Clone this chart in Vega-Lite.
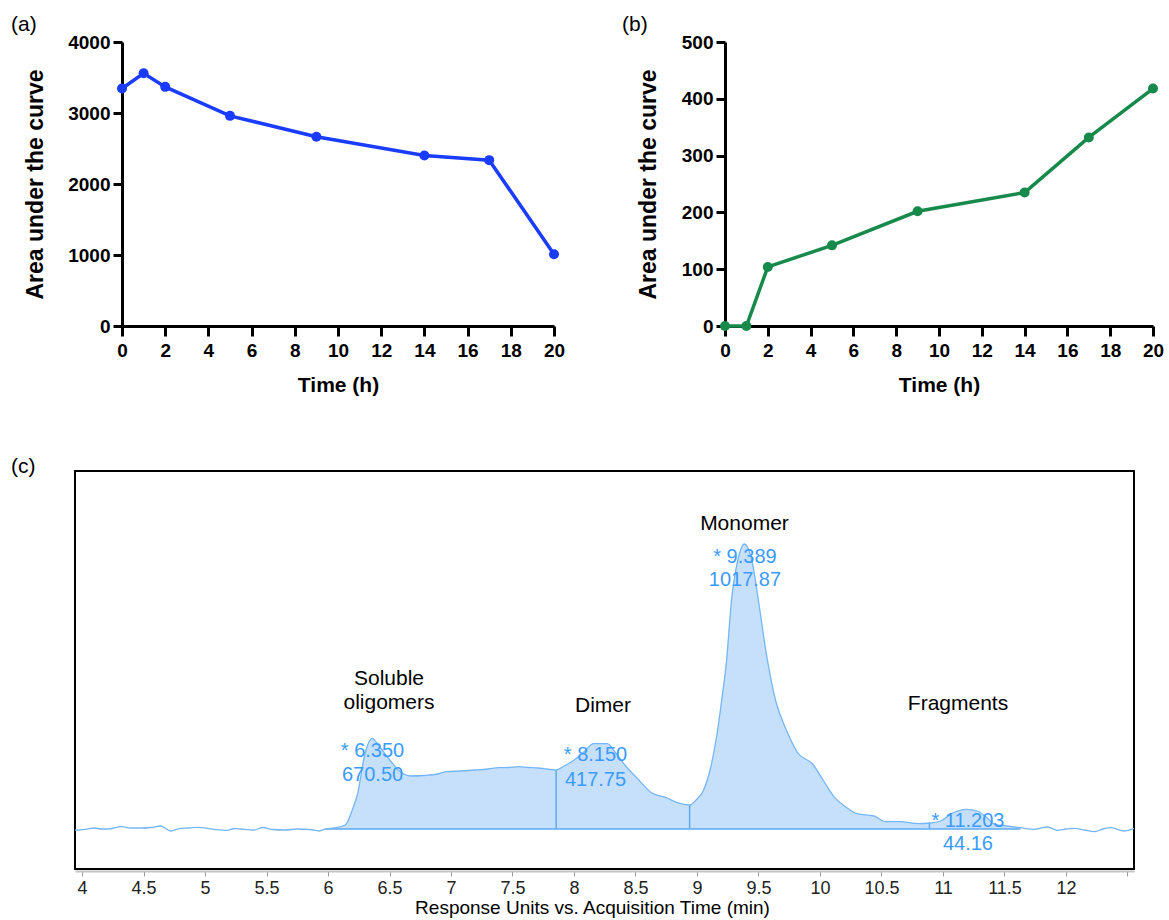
{
  "$schema": "https://vega.github.io/schema/vega-lite/v6.json",
  "padding": {"left": 10, "top": 14, "right": 5, "bottom": 5},
  "background": "white",
  "config": {"font": "Liberation Sans", "view": {"stroke": null}},
  "datasets": {
    "auc_a": [
      {"t": 0, "auc": 3345}, {"t": 1, "auc": 3560}, {"t": 2, "auc": 3368}, {"t": 5, "auc": 2960},
      {"t": 9, "auc": 2665}, {"t": 14, "auc": 2402}, {"t": 17, "auc": 2336}, {"t": 20, "auc": 1010}
    ],
    "auc_b": [
      {"t": 0, "auc": 0}, {"t": 1, "auc": 0}, {"t": 2, "auc": 104}, {"t": 5, "auc": 142},
      {"t": 9, "auc": 202}, {"t": 14, "auc": 235}, {"t": 17, "auc": 332}, {"t": 20, "auc": 418}
    ],
    "trace": [
      {"time": 3.943, "signal": -1}, {"time": 3.96, "signal": -1}, {"time": 4.03, "signal": -0.3},
      {"time": 4.1, "signal": 1}, {"time": 4.16, "signal": 0}, {"time": 4.21, "signal": 0},
      {"time": 4.32, "signal": 2.3}, {"time": 4.4, "signal": 1}, {"time": 4.48, "signal": 1},
      {"time": 4.56, "signal": 1.5}, {"time": 4.64, "signal": 3}, {"time": 4.72, "signal": -2},
      {"time": 4.8, "signal": 0.7}, {"time": 4.87, "signal": 1}, {"time": 4.94, "signal": 1.7},
      {"time": 5.07, "signal": -0.3}, {"time": 5.18, "signal": -1.3}, {"time": 5.24, "signal": 0.5},
      {"time": 5.29, "signal": 0}, {"time": 5.4, "signal": -1}, {"time": 5.47, "signal": 1.5},
      {"time": 5.55, "signal": -0.5}, {"time": 5.65, "signal": -1}, {"time": 5.75, "signal": 0},
      {"time": 5.85, "signal": -0.5}, {"time": 5.93, "signal": -2}, {"time": 5.98, "signal": 0},
      {"time": 6.05, "signal": 1}, {"time": 6.14, "signal": 4}, {"time": 6.2, "signal": 20},
      {"time": 6.24, "signal": 35}, {"time": 6.3, "signal": 75}, {"time": 6.36, "signal": 90.7},
      {"time": 6.42, "signal": 82}, {"time": 6.49, "signal": 71}, {"time": 6.58, "signal": 58},
      {"time": 6.675, "signal": 53}, {"time": 6.78, "signal": 53.5}, {"time": 6.89, "signal": 55},
      {"time": 6.96, "signal": 57.3}, {"time": 7.08, "signal": 58}, {"time": 7.2, "signal": 59},
      {"time": 7.3, "signal": 60}, {"time": 7.39, "signal": 61.3}, {"time": 7.47, "signal": 61.5},
      {"time": 7.55, "signal": 62.3}, {"time": 7.63, "signal": 61.5}, {"time": 7.71, "signal": 61},
      {"time": 7.78, "signal": 60}, {"time": 7.855, "signal": 59}, {"time": 7.92, "signal": 63},
      {"time": 7.99, "signal": 68}, {"time": 8.08, "signal": 77}, {"time": 8.16, "signal": 85.3},
      {"time": 8.27, "signal": 85.3}, {"time": 8.34, "signal": 76}, {"time": 8.42, "signal": 63},
      {"time": 8.52, "signal": 50}, {"time": 8.63, "signal": 36.3}, {"time": 8.75, "signal": 31.3},
      {"time": 8.84, "signal": 26.3}, {"time": 8.94, "signal": 24}, {"time": 9.0, "signal": 30},
      {"time": 9.05, "signal": 38}, {"time": 9.11, "signal": 61}, {"time": 9.17, "signal": 101},
      {"time": 9.2, "signal": 128}, {"time": 9.24, "signal": 168}, {"time": 9.28, "signal": 228},
      {"time": 9.33, "signal": 268}, {"time": 9.36, "signal": 281}, {"time": 9.385, "signal": 285},
      {"time": 9.41, "signal": 282}, {"time": 9.44, "signal": 272}, {"time": 9.5, "signal": 228},
      {"time": 9.56, "signal": 178}, {"time": 9.64, "signal": 128}, {"time": 9.73, "signal": 98},
      {"time": 9.82, "signal": 76}, {"time": 9.94, "signal": 65}, {"time": 10.03, "signal": 48},
      {"time": 10.12, "signal": 31.3}, {"time": 10.21, "signal": 22}, {"time": 10.3, "signal": 15.3},
      {"time": 10.44, "signal": 13}, {"time": 10.53, "signal": 7.3}, {"time": 10.65, "signal": 7.3},
      {"time": 10.8, "signal": 5.3}, {"time": 10.89, "signal": 6}, {"time": 10.98, "signal": 8},
      {"time": 11.08, "signal": 16}, {"time": 11.19, "signal": 19.7}, {"time": 11.28, "signal": 18},
      {"time": 11.36, "signal": 11}, {"time": 11.42, "signal": 4.7}, {"time": 11.52, "signal": 3},
      {"time": 11.63, "signal": 1.3}, {"time": 11.74, "signal": -0.3}, {"time": 11.85, "signal": 2},
      {"time": 11.93, "signal": -1.3}, {"time": 12.0, "signal": 0}, {"time": 12.07, "signal": 0.7},
      {"time": 12.15, "signal": -1}, {"time": 12.23, "signal": -2.7}, {"time": 12.3, "signal": 0},
      {"time": 12.37, "signal": 1.3}, {"time": 12.47, "signal": -2}, {"time": 12.553, "signal": 0.7}
    ],
    "integration": [{"start": 5.98, "end": 11.63, "level": 0}],
    "splits": [{"time": 7.855, "top": 59}, {"time": 8.94, "top": 24}, {"time": 10.89, "top": 6}],
    "peak_names": [
      {"time": 6.496, "signal": 150, "text": "Soluble"},
      {"time": 6.496, "signal": 126, "text": "oligomers"},
      {"time": 8.236, "signal": 123.5, "text": "Dimer"},
      {"time": 9.386, "signal": 305.5, "text": "Monomer"},
      {"time": 11.122, "signal": 125, "text": "Fragments"}
    ],
    "peak_values": [
      {"time": 6.362, "signal": 78, "text": "* 6.350"},
      {"time": 6.362, "signal": 54.5, "text": "670.50"},
      {"time": 8.175, "signal": 74, "text": "* 8.150"},
      {"time": 8.175, "signal": 49.5, "text": "417.75"},
      {"time": 9.39, "signal": 272.5, "text": "* 9.389"},
      {"time": 9.39, "signal": 249.5, "text": "1017.87"},
      {"time": 11.203, "signal": 8, "text": "* 11.203"},
      {"time": 11.203, "signal": -14.5, "text": "44.16"}
    ]
  },
  "spacing": 60,
  "vconcat": [
    {
      "spacing": 57,
      "hconcat": [
        {
          "width": 479,
          "height": 284,
          "title": {"text": "(a)", "anchor": "start", "frame": "group", "dx": -64, "fontSize": 21, "fontWeight": "normal", "baseline": "bottom", "offset": -23, "color": "black"},
          "data": {"name": "auc_a"},
          "mark": {"type": "line", "color": "#1a3cff", "strokeWidth": 3.5, "point": {"filled": true, "size": 100, "color": "#1a3cff"}},
          "encoding": {
            "x": {"field": "t", "type": "quantitative", "scale": {"domain": [0, 20], "nice": false, "range": [47, 479]},
              "axis": {"title": "Time (h)", "values": [0, 2, 4, 6, 8, 10, 12, 14, 16, 18, 20], "grid": false,
                "domainColor": "black", "domainWidth": 3, "tickColor": "black", "tickWidth": 3, "tickSize": 10,
                "labelFontSize": 19, "labelFontWeight": "bold", "labelColor": "black", "labelPadding": 5,
                "labelFlush": false, "labelOverlap": false,
                "titleFontSize": 21, "titleFontWeight": "bold", "titleColor": "black", "titlePadding": 14, "titleX": 263}},
            "y": {"field": "auc", "type": "quantitative", "scale": {"domain": [0, 4000], "nice": false},
              "axis": {"title": "Area under the curve", "values": [0, 1000, 2000, 3000, 4000], "format": "d", "grid": false, "offset": -47,
                "domainColor": "black", "domainWidth": 3, "tickColor": "black", "tickWidth": 3, "tickSize": 9,
                "labelFontSize": 19, "labelFontWeight": "bold", "labelColor": "black", "labelPadding": 3,
                "labelFlush": false, "labelOverlap": false,
                "titleFontSize": 23, "titleFontWeight": "bold", "titleColor": "black", "titlePadding": 20}}
          }
        },
        {
          "width": 428,
          "height": 284,
          "title": {"text": "(b)", "anchor": "start", "frame": "group", "dx": -103, "fontSize": 21, "fontWeight": "normal", "baseline": "bottom", "offset": -23, "color": "black"},
          "data": {"name": "auc_b"},
          "mark": {"type": "line", "color": "#178a4b", "strokeWidth": 3.5, "point": {"filled": true, "size": 100, "color": "#178a4b"}},
          "encoding": {
            "x": {"field": "t", "type": "quantitative", "scale": {"domain": [0, 20], "nice": false},
              "axis": {"title": "Time (h)", "values": [0, 2, 4, 6, 8, 10, 12, 14, 16, 18, 20], "grid": false,
                "domainColor": "black", "domainWidth": 3, "tickColor": "black", "tickWidth": 3, "tickSize": 10,
                "labelFontSize": 19, "labelFontWeight": "bold", "labelColor": "black", "labelPadding": 5,
                "labelFlush": false, "labelOverlap": false,
                "titleFontSize": 21, "titleFontWeight": "bold", "titleColor": "black", "titlePadding": 14}},
            "y": {"field": "auc", "type": "quantitative", "scale": {"domain": [0, 500], "nice": false},
              "axis": {"title": "Area under the curve", "values": [0, 100, 200, 300, 400, 500], "format": "d", "grid": false,
                "domainColor": "black", "domainWidth": 3, "tickColor": "black", "tickWidth": 3, "tickSize": 9,
                "labelFontSize": 19, "labelFontWeight": "bold", "labelColor": "black", "labelPadding": 3,
                "labelFlush": false, "labelOverlap": false,
                "titleFontSize": 23, "titleFontWeight": "bold", "titleColor": "black", "titlePadding": 21}}
          }
        }
      ]
    },
    {
      "width": 1059,
      "height": 398,
      "view": {"stroke": "black", "strokeWidth": 2},
      "title": {"text": "(c)", "anchor": "start", "frame": "group", "dx": -64, "fontSize": 21, "fontWeight": "normal", "baseline": "bottom", "offset": -27, "color": "black"},
      "layer": [
        {
          "data": {"name": "trace"},
          "transform": [{"filter": "datum.time >= 5.98 && datum.time <= 11.63"}],
          "mark": {"type": "area", "color": "#c6e0fb", "interpolate": "monotone", "opacity": 1},
          "encoding": {
            "x": {"field": "time", "type": "quantitative", "scale": {"domain": [3.943, 12.553], "nice": false, "zero": false},
              "axis": {"title": "Response Units vs. Acquisition Time (min)", "values": [4, 4.5, 5, 5.5, 6, 6.5, 7, 7.5, 8, 8.5, 9, 9.5, 10, 10.5, 11, 11.5, 12, 12.5],
                "format": "~g", "labelExpr": "datum.value > 12.4 ? '' : datum.label", "grid": false,
                "offset": 2, "domainColor": "#c4c4c4", "domainWidth": 2, "tickColor": "#999999", "tickWidth": 1, "tickSize": 5,
                "labelFontSize": 18, "labelColor": "#222222", "labelPadding": 3, "labelFlush": false, "labelOverlap": false,
                "titleFontSize": 19, "titleFontWeight": "normal", "titleColor": "black", "titlePadding": 1, "titleX": 517}},
            "y": {"field": "signal", "type": "quantitative", "scale": {"domain": [-40, 358], "nice": false, "zero": false}, "axis": null},
            "y2": {"datum": 0}
          }
        },
        {
          "data": {"name": "integration"},
          "mark": {"type": "rule", "color": "#5eaaf3", "strokeWidth": 1.5},
          "encoding": {
            "x": {"field": "start", "type": "quantitative"},
            "x2": {"field": "end"},
            "y": {"field": "level", "type": "quantitative"}
          }
        },
        {
          "data": {"name": "splits"},
          "mark": {"type": "rule", "color": "#5eaaf3", "strokeWidth": 1.5},
          "encoding": {
            "x": {"field": "time", "type": "quantitative"},
            "y": {"field": "top", "type": "quantitative"},
            "y2": {"datum": 0}
          }
        },
        {
          "data": {"name": "trace"},
          "mark": {"type": "line", "color": "#74b6f7", "strokeWidth": 1.3, "interpolate": "monotone"},
          "encoding": {
            "x": {"field": "time", "type": "quantitative"},
            "y": {"field": "signal", "type": "quantitative"}
          }
        },
        {
          "mark": {"type": "rule", "color": "#b4b4b4", "strokeWidth": 1},
          "encoding": {"y": {"datum": 307}}
        },
        {
          "data": {"name": "peak_names"},
          "mark": {"type": "text", "fontSize": 21, "color": "black", "align": "center", "baseline": "middle"},
          "encoding": {
            "x": {"field": "time", "type": "quantitative"},
            "y": {"field": "signal", "type": "quantitative"},
            "text": {"field": "text"}
          }
        },
        {
          "data": {"name": "peak_values"},
          "mark": {"type": "text", "fontSize": 20, "color": "#3b9bff", "align": "center", "baseline": "middle"},
          "encoding": {
            "x": {"field": "time", "type": "quantitative"},
            "y": {"field": "signal", "type": "quantitative"},
            "text": {"field": "text"}
          }
        }
      ]
    }
  ]
}
